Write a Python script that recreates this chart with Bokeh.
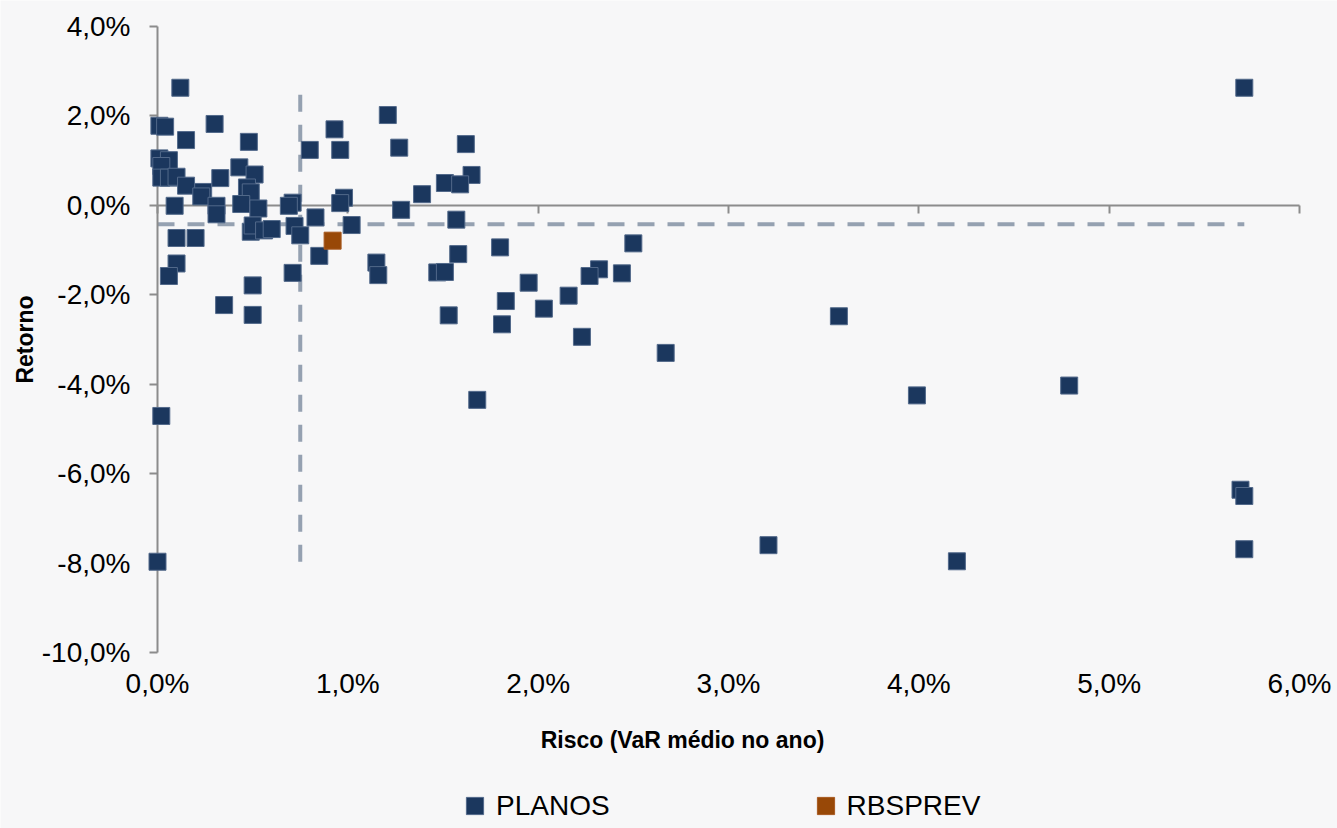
import math
from bokeh.plotting import figure
from bokeh.models import (Range1d, LinearAxis, FixedTicker, CustomJSTickFormatter,
                          Legend, LegendItem, Label)
from bokeh.embed import file_html
from bokeh.resources import INLINE

# ---------------- data (percent units) ----------------
planos_risk = [0.12, 0.01, 0.04, 0.30, 0.15, 0.48, 0.01, 0.06, 0.02, 0.02,
               0.06, 0.10, 0.15, 0.24, 0.23, 0.33, 0.43, 0.51, 0.47, 0.49,
               0.31, 0.31, 0.09, 0.44, 0.53, 0.71, 0.69, 0.83, 0.49, 0.50,
               0.56, 0.60, 0.72, 0.75, 0.10, 0.20, 0.85, 0.10, 0.06, 0.71,
               0.50, 0.35, 0.50, 0.80, 0.93, 0.96, 1.21, 1.27, 1.62, 1.65,
               1.51, 1.59, 1.39, 0.98, 0.96, 1.28, 1.57, 1.02, 1.80, 1.58,
               1.15, 1.16, 1.47, 1.51, 1.95, 1.83, 1.53, 1.81, 2.50, 2.32,
               2.27, 2.44, 2.16, 2.03, 2.23, 2.67, 1.68, 0.02, 0.00, 3.21,
               3.58, 3.99, 4.79, 5.69, 5.71, 4.20, 5.71, 5.71]
planos_return = [2.63, 1.78, 1.76, 1.82, 1.46, 1.42, 1.05, 1.01, 0.88, 0.62,
                 0.62, 0.64, 0.44, 0.30, 0.20, 0.61, 0.85, 0.69, 0.40, 0.29,
                 -0.01, -0.20, -0.01, 0.03, -0.07, 0.06, -0.01, -0.27, -0.59, -0.45,
                 -0.56, -0.53, -0.46, -0.67, -0.73, -0.73, -1.13, -1.30, -1.58, -1.51,
                 -1.79, -2.23, -2.45, 1.24, 1.70, 1.24, 2.02, 1.29, 1.37, 0.68,
                 0.50, 0.47, 0.25, 0.17, 0.05, -0.10, -0.32, -0.44, -0.94, -1.09,
                 -1.28, -1.56, -1.50, -1.49, -1.73, -2.14, -2.46, -2.66, -0.85, -1.43,
                 -1.58, -1.52, -2.02, -2.31, -2.94, -3.30, -4.35, -4.71, -7.97, -7.60,
                 -2.48, -4.25, -4.03, -6.36, -6.50, -7.96, -7.69, 2.63]
rbsprev_risk = [0.92]
rbsprev_return = [-0.79]
mean_risk = 0.75
mean_return = -0.42
x_ticks = [0, 1, 2, 3, 4, 5, 6]
y_ticks = [-10, -8, -6, -4, -2, 0, 2, 4]
series_names = ["PLANOS", "RBSPREV"]
x_title = "Risco (VaR médio no ano)"
y_title = "Retorno"

# ---------------- layout / styling ----------------
BG = "#f7f7f8"
AXIS = "#8c8c8c"
NAVY = "#1b375e"
BROWN = "#984807"
DASH = "#95a1b1"
FONT = "Liberation Sans"
X_MIN, X_MAX = 0, 6
Y_MIN, Y_MAX = -10, 4

PLOT_W, PLOT_H = 1337, 828
AX_L, AX_R, AX_T, AX_B = 157, 1299, 26, 652     # pixel box of the axes
XS = (AX_R - AX_L) / (X_MAX - X_MIN)
YS = (AX_B - AX_T) / (Y_MAX - Y_MIN)
x_view = (X_MIN - AX_L / XS, X_MAX + (PLOT_W - AX_R) / XS)
y_view = (Y_MIN - (PLOT_H - AX_B) / YS, Y_MAX + AX_T / YS)


def px_x(px):
    return X_MIN + (px - AX_L) / XS


def px_y(py):
    return Y_MAX - (py - AX_T) / YS


p = figure(width=PLOT_W, height=PLOT_H, x_range=Range1d(*x_view), y_range=Range1d(*y_view),
           output_backend="svg", toolbar_location=None,
           x_axis_type=None, y_axis_type=None,
           min_border_left=0, min_border_right=0, min_border_top=0, min_border_bottom=0,
           background_fill_color=BG, border_fill_color=BG, outline_line_color=None)
p.xgrid.visible = False
p.ygrid.visible = False

fmt = CustomJSTickFormatter(code="return tick.toFixed(1).replace('.', ',') + '%';")

yaxis = LinearAxis(fixed_location=X_MIN, bounds=(Y_MIN, Y_MAX),
                   ticker=FixedTicker(ticks=y_ticks, minor_ticks=[]), formatter=fmt,
                   axis_line_color=AXIS, axis_line_width=2,
                   major_tick_line_color=AXIS, major_tick_line_width=2,
                   major_tick_out=8, major_tick_in=0, minor_tick_line_color=None,
                   major_label_standoff=19, major_label_text_font=FONT,
                   major_label_text_font_size="28px", major_label_text_color="black")
p.add_layout(yaxis, "left")

# tick labels of the risk axis, below the bottom of the return scale
xaxis = LinearAxis(fixed_location=Y_MIN, bounds=(X_MIN, X_MAX),
                   ticker=FixedTicker(ticks=x_ticks, minor_ticks=[]), formatter=fmt,
                   axis_line_color=None, major_tick_line_color=None, minor_tick_line_color=None,
                   major_tick_out=0, major_tick_in=0, major_label_standoff=15,
                   major_label_text_font=FONT, major_label_text_font_size="28px",
                   major_label_text_color="black")
p.add_layout(xaxis, "below")

# risk axis line crossing at zero return
zaxis = LinearAxis(fixed_location=0, bounds=(X_MIN, X_MAX),
                   ticker=FixedTicker(ticks=x_ticks, minor_ticks=[]),
                   formatter=CustomJSTickFormatter(code="return '';"),
                   axis_line_color=AXIS, axis_line_width=2,
                   major_tick_line_color=AXIS, major_tick_line_width=2,
                   major_tick_out=8, major_tick_in=0, minor_tick_line_color=None,
                   major_label_text_font_size="1px")
p.add_layout(zaxis, "below")

all_x = planos_risk + rbsprev_risk
all_y = planos_return + rbsprev_return
p.segment(x0=[mean_risk], y0=[min(all_y)], x1=[mean_risk], y1=[max(all_y)],
          line_color=DASH, line_width=4, line_dash="17 13")
p.segment(x0=[min(all_x)], y0=[mean_return], x1=[max(all_x)], y1=[mean_return],
          line_color=DASH, line_width=4, line_dash="17 13")

r1 = p.scatter(planos_risk, planos_return, marker="square", size=17,
               fill_color=NAVY, line_color="#52698a", line_width=1, level="annotation")
r2 = p.scatter(rbsprev_risk, rbsprev_return, marker="square", size=17,
               fill_color=BROWN, line_color="#a85a20", line_width=1, level="annotation")

p.add_layout(Label(x=px_x(682), y=px_y(739), text=x_title, text_font=FONT,
                   text_font_size="23px", text_font_style="bold", text_color="black",
                   text_align="center", text_baseline="middle"))
p.add_layout(Label(x=px_x(24), y=(Y_MIN + Y_MAX) / 2, text=y_title, angle=math.pi / 2,
                   text_font=FONT, text_font_size="23px", text_font_style="bold",
                   text_color="black", text_align="center", text_baseline="middle"))

legend = Legend(items=[LegendItem(label=series_names[0], renderers=[r1]),
                       LegendItem(label=series_names[1], renderers=[r2])],
                location=(453, 1), orientation="horizontal",
                glyph_width=43, glyph_height=43, label_standoff=0, spacing=194,
                padding=0, margin=0, border_line_color=None, background_fill_alpha=0,
                label_text_font=FONT, label_text_font_size="28px", label_text_color="black")
p.add_layout(legend)

open("out.html", "w").write(file_html(p, INLINE))
